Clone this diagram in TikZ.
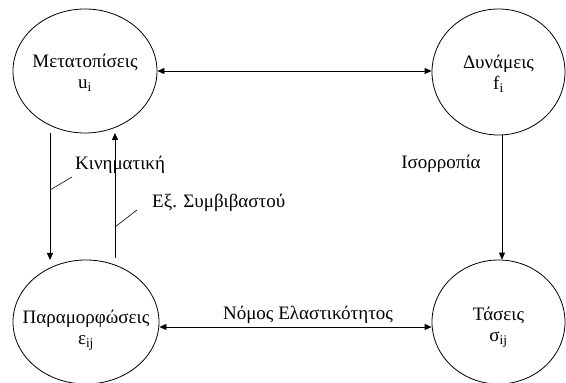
\documentclass[tikz,border=0pt]{standalone}
\usepackage{fontspec}
\setmainfont{Liberation Serif}
\usetikzlibrary{shapes.geometric,arrows.meta}
\tikzset{
  x=1pt,y=1pt,
  state/.style={ellipse,draw,line width=0.8pt,inner sep=0pt},
  stxt/.style={align=center,inner sep=0pt,font=\fontsize{19}{21}\selectfont},
  lbl/.style={font=\fontsize{19}{21}\selectfont,inner sep=0pt},
  conn/.style={line width=0.8pt,arrows={-Triangle[length=7pt,width=6pt]}},
  both/.style={line width=0.8pt,arrows={Triangle[length=7pt,width=6pt]-Triangle[length=7pt,width=6pt]}},
  leader/.style={line width=0.6pt}
}
\begin{document}
\begin{tikzpicture}
\useasboundingbox (0,0) rectangle (566,383);
\node[state,minimum width=144pt,minimum height=124pt] (A) at (85,312) {};
\node[state,minimum width=133pt,minimum height=126pt] (B) at (498.5,311) {};
\node[state,minimum width=146pt,minimum height=124pt] (C) at (86,61) {};
\node[state,minimum width=133pt,minimum height=124pt] (D) at (498.5,61) {};
\node[stxt] (At) at (85,310.5) {Μετατοπίσεις\\u\textsubscript{i}};
\node[stxt] (Bt) at (498.5,309.5) {Δυνάμεις\\f\textsubscript{i}};
\node[stxt] (Ct) at (86,53) {Παραμορφώσεις\\ε\textsubscript{ij}};
\node[stxt] (Dt) at (498.5,55.5) {Τάσεις\\σ\textsubscript{ij}};
% horizontal connectors
\draw[both] (A.east) -- (A.east -| B.west);
\draw[both] ([yshift=-5pt]C.east) -- ([yshift=-5pt]D.west);
% right vertical
\draw[conn] ([xshift=3.5pt]B.south) -- ([xshift=3.5pt]D.north);
% left verticals
\coordinate (kinS) at (50,250);
\coordinate (kinE) at (50,123);
\coordinate (cmpS) at (115,125);
\coordinate (cmpE) at (115,250);
\draw[conn] (kinS) -- (kinE);
\draw[conn] (cmpS) -- (cmpE);
% labels
\node[lbl,anchor=west] (kinL) at (75,218) {Κινηματική};
\node[lbl,anchor=west] (cmpL) at (152,180) {Εξ. Συμβιβαστού};
\node[lbl] (eqL) at (441,219) {Ισορροπία};
\node[lbl] (elL) at (308,68) {Νόμος Ελαστικότητος};
% leaders
\coordinate (kinA) at (50,193);
\coordinate (kinB) at (72,206);
\coordinate (cmpA) at (115,156);
\coordinate (cmpB) at (137,173);
\draw[leader] (kinA) -- (kinB);
\draw[leader] (cmpA) -- (cmpB);
\end{tikzpicture}
\end{document}
